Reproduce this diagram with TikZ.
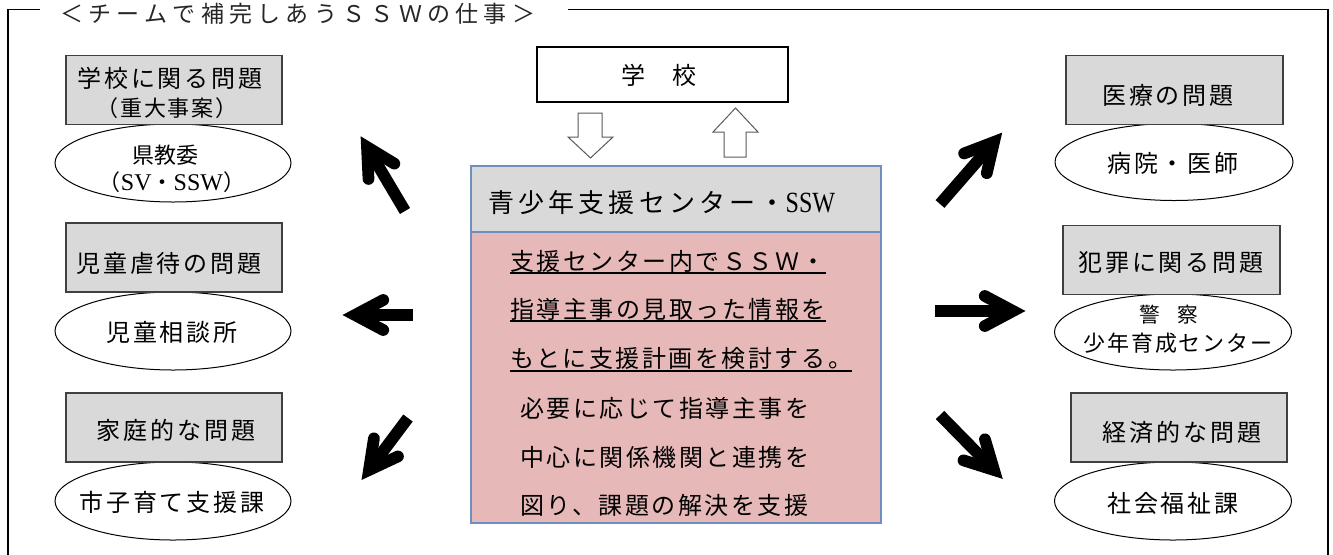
\documentclass[tikz,border=0pt]{standalone}
\usepackage{fontspec}
\setmainfont{Noto Sans CJK JP}
\newfontfamily\lsA[LetterSpace=12]{Noto Sans CJK JP}
\newfontfamily\lsB[LetterSpace=10.5]{Noto Sans CJK JP}
\newfontfamily\lsH[LetterSpace=16]{Noto Sans CJK JP}
\newfontfamily\lsT[LetterSpace=23]{Noto Sans CJK JP}
\newfontfamily\lsS[LetterSpace=8]{Noto Sans CJK JP}
\newfontfamily\tms{Liberation Serif}
\newfontfamily\tmsN[FakeStretch=0.82]{Liberation Serif}
\usetikzlibrary{shapes.geometric,calc}
\definecolor{boxgray}{HTML}{D9D9D9}
\definecolor{pinkfill}{HTML}{E6B9B8}
\definecolor{ctrblue}{HTML}{6F8FC2}
\definecolor{arrgray}{HTML}{595959}
\newcommand\fatarrow[2]{%
  \draw[fatshaft] (#1) -- (#2);
  \draw[fathead] ($(#2)!24pt!28:(#1)$) -- (#2) -- ($(#2)!24pt!-28:(#1)$);}
\begin{document}
\begin{tikzpicture}[x=0.75pt,y=-0.75pt,
  frame/.style={draw=black, line width=1pt},
  gbox/.style={rectangle, draw=black!75, line width=1.1pt, fill=boxgray, minimum width=162pt, minimum height=51.5pt, inner sep=0pt},
  oval/.style={ellipse, draw=black, line width=0.75pt, fill=white, minimum width=177pt, minimum height=58.5pt, inner sep=0pt},
  wbox/.style={rectangle, draw=black, line width=0.8pt, fill=white, minimum width=188.25pt, minimum height=41.25pt, inner sep=0pt},
  hdr/.style={rectangle, draw=ctrblue, line width=0.8pt, fill=boxgray, minimum width=307.5pt, minimum height=49.5pt, inner sep=0pt},
  bodybox/.style={rectangle, draw=ctrblue, line width=0.8pt, fill=pinkfill, minimum width=307.5pt, minimum height=218.25pt, inner sep=0pt},
  blockarrow/.style={draw=arrgray, line width=0.75pt, fill=white, line join=miter},
  fatshaft/.style={line width=8.8pt, draw=black, line cap=butt},
  fathead/.style={line width=8.8pt, draw=black, line cap=round, line join=miter},
  uline/.style={draw=black, line width=1.4pt},
  tA/.style={inner sep=0pt, font=\lsA\fontsize{18}{18}\selectfont, text height=13.7pt, text depth=0pt},
  tS/.style={inner sep=0pt, font=\lsS\fontsize{16.5}{16.5}\selectfont, text height=12.5pt, text depth=0pt},
  tB/.style={inner sep=0pt, anchor=west, font=\lsB\fontsize{18}{18}\selectfont, text height=13.7pt, text depth=0pt},
  tH/.style={inner sep=0pt, anchor=west, font=\lsH\fontsize{19.5}{19.5}\selectfont, text height=14.8pt, text depth=0pt},
  tT/.style={inner sep=0pt, anchor=west, font=\lsT\fontsize{17.25}{17.25}\selectfont, text height=13.1pt, text depth=0pt, text=black!85}
]
\useasboundingbox (0,0) rectangle (1333,554);

% outer frame with title
\coordinate (fbl) at (8,560);
\coordinate (ftl) at (8,9.5);
\coordinate (ftl2) at (40,9.5);
\coordinate (ftr1) at (568,9.5);
\coordinate (ftr) at (1328,9.5);
\coordinate (fbr) at (1328,560);
\draw[frame] (fbl) -- (ftl) -- (ftl2);
\draw[frame] (ftr1) -- (ftr) -- (fbr);
\node[tT] (title) at (60,14) {＜チームで補完しあうＳＳＷの仕事＞};

% left column
\node[oval] (e1) at (173,163) {};
\node[oval] (e2) at (173,331) {};
\node[oval] (e3) at (173,501) {};
\node[gbox] (b1) at (174,90) {};
\node[gbox] (b2) at (174,257.5) {};
\node[gbox] (b3) at (174,427.5) {};
\node[tA] (b1t) at (170,78) {学校に関る問題};
\node[tS] (b1s) at (167,108) {（重大事案）};
\node[tS, font=\fontsize{16.5}{16.5}\selectfont] (e1t) at (165,155) {県教委};
\node[tS, font=\fontsize{16.5}{16.5}\selectfont] (e1s) at (172,182) {（{\tms\fontsize{18}{18}\selectfont SV}・{\tms\fontsize{18}{18}\selectfont SSW}）};
\node[tA] (b2t) at (169,263) {児童虐待の問題};
\node[tA] (e2t) at (172,332) {児童相談所};
\node[tA] (b3t) at (176,430) {家庭的な問題};
\node[tA] (e3t) at (172,502) {市子育て支援課};

% right column
\node[oval, minimum width=178.5pt, minimum height=57.75pt] (re1) at (1174,162) {};
\node[oval, minimum width=177.75pt, minimum height=57pt] (re2) at (1173,332) {};
\node[oval, minimum width=177.75pt, minimum height=58.5pt] (re3) at (1173,501) {};
\node[gbox, minimum width=162.75pt] (r1) at (1174.5,90) {};
\node[gbox, minimum width=162.75pt] (r2) at (1171.5,260) {};
\node[gbox] (r3) at (1179,427.5) {};
\node[tA] (r1t) at (1168,95) {医療の問題};
\node[tA] (re1t) at (1173,163) {病院・医師};
\node[tA] (r2t) at (1171,262) {犯罪に関る問題};
\node[tS, font=\fontsize{15.5}{15.5}\selectfont, text height=11.8pt] (re2t) at (1169,315) {警\kern 13pt 察};
\node[tS] (re2s) at (1178,343) {少年育成センター};
\node[tA] (r3t) at (1182,432) {経済的な問題};
\node[tA] (re3t) at (1173,503) {社会福祉課};

% school box and block arrows
\node[wbox] (school) at (662.5,74.5) {};
\node[tA, font=\lsS\fontsize{18}{18}\selectfont] (schoolt) at (659,75) {学　校};
\draw[blockarrow] (578,113) -- (602,113) -- (602,137) -- (613,137) -- (590.5,158) -- (568,137) -- (578,137) -- cycle;
\draw[blockarrow] (724,157) -- (746,157) -- (746,132) -- (758,132) -- (735.5,108) -- (713,132) -- (724,132) -- cycle;

% center box
\node[hdr] (hdr) at (676,199) {};
\node[bodybox] (body) at (676,377.5) {};
\node[tH] (hdrt) at (488,203) {青少年支援センター・{\tmsN\fontsize{22}{22}\selectfont SSW}};
\node[tB] (l1) at (510,261) {支援センター内でＳＳＷ・};
\node[tB] (l2) at (510,309) {指導主事の見取った情報を};
\node[tB] (l3) at (510,358) {もとに支援計画を検討する。};
\node[tB] (l4) at (520,408) {必要に応じて指導主事を};
\node[tB] (l5) at (520,457) {中心に関係機関と連携を};
\node[tB] (l6) at (520,505) {図り、課題の解決を支援};
\draw[uline] ([yshift=-9pt]l1.west) -- ([yshift=-9pt]l1.east);
\draw[uline] ([yshift=-9pt]l2.west) -- ([yshift=-9pt]l2.east);
\draw[uline] ([yshift=-9.5pt]l3.west) -- ([yshift=-9.5pt]l3.east);

% fat arrows
\coordinate (nwS) at (405,211); \coordinate (nwT) at (367,147);
\coordinate (wS) at (413,315);  \coordinate (wT) at (355,315);
\coordinate (swS) at (408,418); \coordinate (swT) at (369,470);
\coordinate (neS) at (940,204); \coordinate (neT) at (994,142);
\coordinate (eS) at (935,311);  \coordinate (eT) at (1013,311);
\coordinate (seS) at (940,415); \coordinate (seT) at (994,470);
\fatarrow{nwS}{nwT}
\fatarrow{wS}{wT}
\fatarrow{swS}{swT}
\fatarrow{neS}{neT}
\fatarrow{eS}{eT}
\fatarrow{seS}{seT}
\end{tikzpicture}
\end{document}
